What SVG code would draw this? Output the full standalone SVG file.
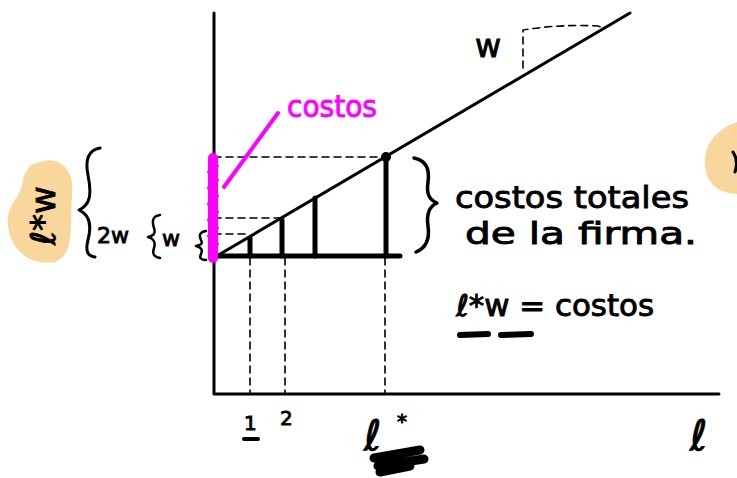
<svg xmlns="http://www.w3.org/2000/svg" width="737" height="478" viewBox="0 0 737 478">
<defs>
<style>
.ink{stroke:#000;fill:none;stroke-linecap:round;stroke-linejoin:round}
.axis{stroke-width:3}
.dash{stroke-width:1.6;stroke-dasharray:7 5}
.bar{stroke-width:5}
.t{font-family:"DejaVu Sans","Liberation Sans",sans-serif;fill:#000;stroke:#000;stroke-width:0.9}
.pink{fill:#f0f;stroke:#f0f;stroke-width:0.9;font-family:"DejaVu Sans","Liberation Sans",sans-serif}
.blob{fill:#f9d69b}
</style>
</defs>
<rect width="737" height="478" fill="#fff"/>
<g id="highlights">
<path class="blob" d="M40 162 C60 155 75 170 72 195 C70 225 75 255 55 262 C30 266 10 250 8 225 C6 205 20 198 22 185 C24 170 30 164 40 162 Z"/>
<path class="blob" d="M737 122 C720 128 706 140 705 160 C704 180 715 193 737 194 Z"/>
<path d="M733 152 C737 158 737 166 735 172" stroke="#000" stroke-width="3" fill="none" stroke-linecap="round"/>
</g>
<g id="axes">
<path class="ink axis" d="M214 13 L214 394 L719 394"/>
</g>
<g id="connectors">
<path class="ink" stroke-width="3" d="M215 257 L630 13"/>
<path class="ink dash" d="M214 157 L385 157"/>
<path class="ink dash" d="M214 218 L282 218"/>
<path class="ink dash" d="M214 234 L250 234"/>
<path class="ink dash" d="M250 258 L250 394"/>
<path class="ink dash" d="M285 258 L285 394"/>
<path class="ink dash" d="M385 258 L385 394"/>
<path class="ink dash" d="M523 68 L523 30 Q560 24 598 26 Q604 28 603 29"/>
<path class="ink bar" d="M214 256 L400 256"/>
<path class="ink bar" d="M250 256 L250 238"/>
<path class="ink bar" d="M282 256 L282 220"/>
<path class="ink bar" d="M315 256 L315 198"/>
<path class="ink bar" d="M386 256 L386 158"/>
<circle cx="386" cy="157" r="5" fill="#000"/>
</g>
<g id="costos-pink">
<path d="M213 158 L213 258" stroke="#f0f" stroke-width="10" stroke-linecap="round"/>
<path d="M209 160 L217 166 L209 172 L217 180 L209 188 L217 196 L209 204 L217 212 L209 220 L217 228 L209 236 L217 244 L209 252" stroke="#f0f" stroke-width="4" fill="none" stroke-linejoin="round"/>
<path d="M278 113 L224 187" stroke="#f0f" stroke-width="4" stroke-linecap="round"/>
<text class="pink" x="287" y="117" font-size="30" textLength="90" lengthAdjust="spacingAndGlyphs">costos</text>
</g>
<g id="left-labels">
<text class="t" font-size="34" transform="translate(55 245) rotate(-90)">ℓ*w</text>
<path class="ink" stroke-width="3" d="M100 148 C88 150 85 160 88 175 C92 195 90 205 79 210 C90 215 92 225 88 240 C85 252 88 256 95 257"/>
<text class="t" font-size="22" x="97" y="243">2w</text>
<path class="ink" stroke-width="2.5" d="M160 215 C152 216 152 222 154 228 C156 234 153 236 148 237 C153 238 156 242 154 248 C152 254 154 257 160 258"/>
<text class="t" font-size="22" x="162" y="246">w</text>
<path class="ink" stroke-width="2.5" d="M206 231 C199 232 199 236 201 240 C203 244 201 245 196 246 C201 247 203 250 201 254 C199 258 201 260 206 260"/>
</g>
<g id="right-labels">
<path class="ink" stroke-width="3.5" d="M414 158 C425 160 430 168 428 182 C426 195 430 200 437 203 C430 206 426 212 428 226 C430 240 426 248 416 252"/>
<text class="t" font-size="31" x="455" y="208" textLength="234" lengthAdjust="spacingAndGlyphs">costos totales</text>
<text class="t" font-size="31" x="465" y="244" textLength="232" lengthAdjust="spacingAndGlyphs">de la firma.</text>
<text class="t" font-size="30" x="456" y="316" textLength="198" lengthAdjust="spacingAndGlyphs">ℓ*w = costos</text>
<path class="ink" stroke-width="6" d="M460 335 L488 334 M501 335 L531 334"/>
<text class="t" font-size="32" x="475" y="57">w</text>
</g>
<g id="bottom-labels">
<text class="t" font-size="20" x="244" y="430">1</text>
<path class="ink" stroke-width="4" d="M244 439 L258 439"/>
<text class="t" font-size="20" x="280" y="425">2</text>
<text class="t" font-size="42" x="364" y="450">ℓ</text>
<text class="t" font-size="20" x="397" y="428">*</text>
<path class="ink" stroke-width="9" d="M374 458 L420 450 M378 466 L424 459 M380 472 L410 466"/>
<text class="t" font-size="42" x="690" y="450">ℓ</text>
</g>
</svg>
